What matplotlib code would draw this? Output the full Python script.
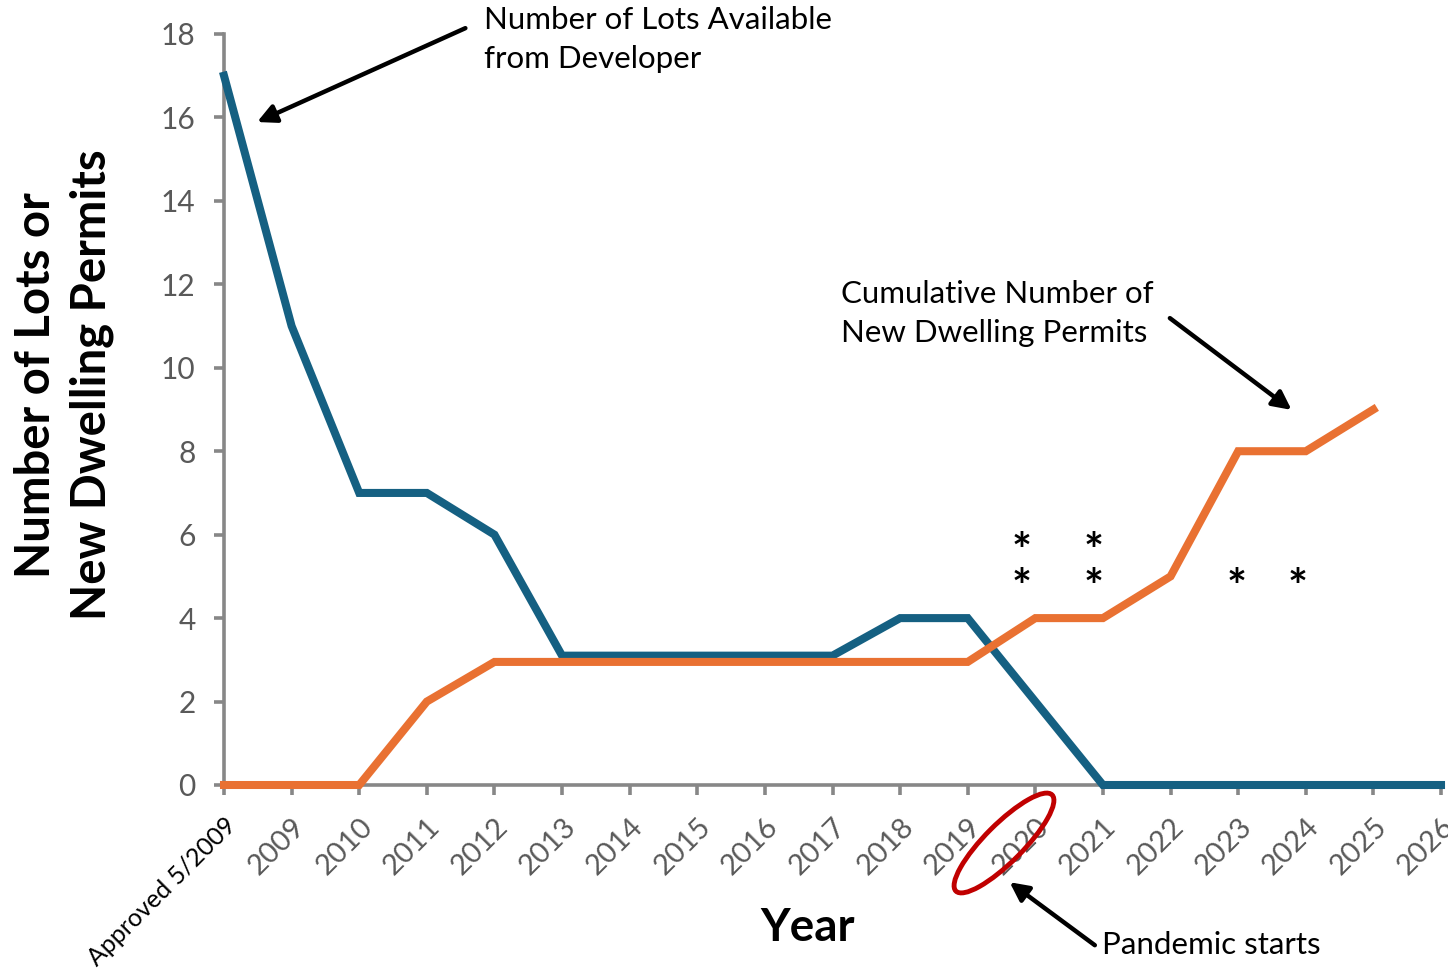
import matplotlib
matplotlib.use("Agg")
import matplotlib.pyplot as plt
from matplotlib.patches import Ellipse
import matplotlib.transforms as mtransforms

plt.rcParams['font.family'] = ['Lato', 'DejaVu Sans']

categories = ["Approved 5/2009", "2009", "2010", "2011", "2012", "2013", "2014", "2015",
              "2016", "2017", "2018", "2019", "2020", "2021", "2022", "2023", "2024",
              "2025", "2026"]
lots_available = [17, 11, 7, 7, 6, 3.1, 3.1, 3.1, 3.1, 3.1, 4, 4, 2, 0, 0, 0, 0, 0, 0]
cumulative_permits = [0, 0, 0, 2, 2.95, 2.95, 2.95, 2.95, 2.95, 2.95, 2.95, 2.95, 4, 4, 5, 8, 8, 9]
y_ticks = [0, 2, 4, 6, 8, 10, 12, 14, 16, 18]

BLUE = "#156082"
ORANGE = "#E97132"
GRAY = "#878787"
TICKGRAY = "#595959"

fig = plt.figure(figsize=(14.48, 9.73), dpi=100)
ax = fig.add_axes([224/1448, 188/973, (1441-224)/1448, (939-188)/973])

x = list(range(len(categories)))
ax.plot(x, lots_available, color=BLUE, lw=5.8, solid_joinstyle='miter', zorder=3, clip_on=False)
ax.plot(x[:len(cumulative_permits)], cumulative_permits, color=ORANGE, lw=5.8,
        solid_joinstyle='miter', zorder=4, clip_on=False)

ax.set_xlim(0, len(categories) - 1)
ax.set_ylim(0, 18)
ax.set_yticks(y_ticks)
ax.set_xticks(x)
ax.set_xticklabels(categories, rotation=45, ha='right', rotation_mode='anchor')

for s in ['top', 'right']:
    ax.spines[s].set_visible(False)
for s in ['left', 'bottom']:
    ax.spines[s].set_color(GRAY)
    ax.spines[s].set_linewidth(2.6)
ax.tick_params(axis='both', color=GRAY, width=2.6, length=7.5, labelsize=21, labelcolor=TICKGRAY)
ax.tick_params(axis='y', pad=13, labelsize=21.5)
ax.tick_params(axis='x', pad=13)
for i, lab in enumerate(ax.get_xticklabels()):
    if i == 0:
        lab.set_color('black')
        lab.set_fontsize(18)
    else:
        lab.set_color(TICKGRAY)

# Axis titles
fig.text(808/1448, 1 - 928/973, "Year", fontsize=33, fontweight='bold', ha='center', va='center')
fig.text(64/1448, 1 - 385/973, "Number of Lots or\nNew Dwelling Permits", fontsize=34,
         fontweight='bold', rotation=90, ha='center', va='center', multialignment='center',
         linespacing=1.3)

arrow_kw = dict(arrowstyle='-|>', color='black', lw=3.2, mutation_scale=28, shrinkA=0, shrinkB=0)

# Annotations
ax.annotate("", xy=(0.49, 15.89), xytext=(3.57, 18.14), arrowprops=arrow_kw, annotation_clip=False)
ax.text(3.85, 18.66, "Number of Lots Available\nfrom Developer", fontsize=22.5, ha='left', va='top',
        linespacing=1.45, clip_on=False)

ax.annotate("", xy=(15.79, 8.99), xytext=(13.99, 11.19), arrowprops=arrow_kw, annotation_clip=False)
ax.text(9.13, 12.1, "Cumulative Number of\nNew Dwelling Permits", fontsize=22.5, ha='left', va='top',
        linespacing=1.45, clip_on=False)

ax.annotate("", xy=(11.62, -2.33), xytext=(12.88, -3.84), arrowprops=arrow_kw, annotation_clip=False)
ax.text(12.98, -3.84, "Pandemic starts", fontsize=22.5, ha='left', va='center', clip_on=False)

# Asterisks (one text per column)
for (ax_x, ax_y, s) in [(11.8, 4.99, "*\n*"), (12.86, 4.99, "*\n*"), (14.97, 4.99, "*"), (15.88, 4.99, "*")]:
    ax.text(ax_x, ax_y - 0.62, s, fontsize=34, fontweight='bold', ha='center', va='baseline',
            linespacing=0.78, multialignment='center')

# Red ellipse around 2020 label
ell = Ellipse((1004, 973 - 843), 136, 38, angle=45, fill=False, edgecolor="#C00000", lw=3.5,
              transform=mtransforms.IdentityTransform())
fig.add_artist(ell)

fig.savefig("out.png", dpi=100)
